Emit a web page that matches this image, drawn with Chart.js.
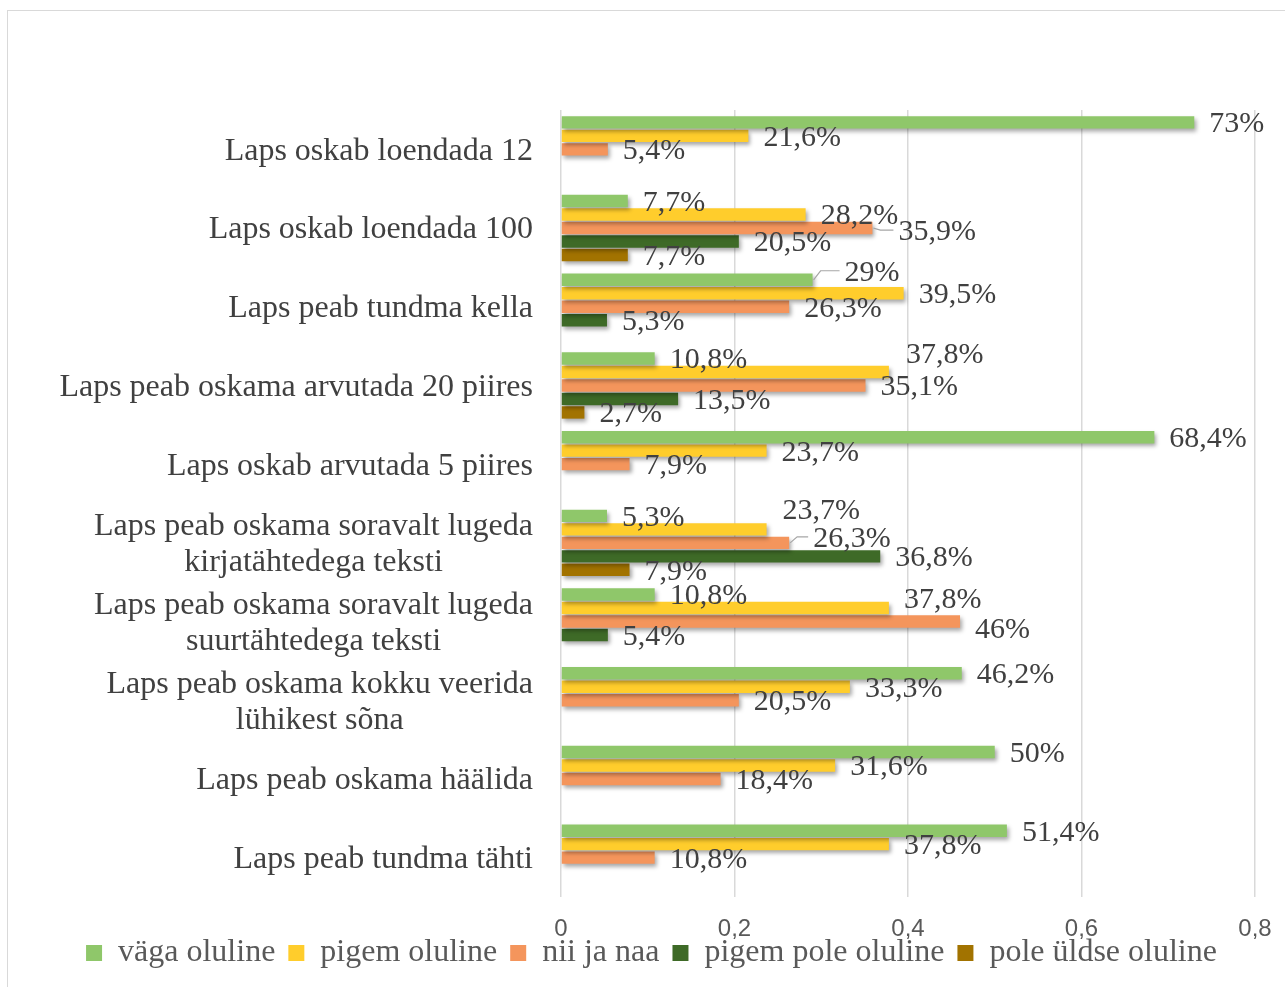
<!DOCTYPE html>
<html>
<head>
<meta charset="utf-8">
<script src="https://cdn.jsdelivr.net/npm/chart.js@4"></script>
<style>
html, body { margin: 0; padding: 0; background: #fff; }
canvas { display: block; }
</style>
</head>
<body>
<canvas id="chart" width="1285" height="987"></canvas>
<script>
// kategooriad (ülevalt alla)
const categories = [
  'Laps oskab loendada 12',
  'Laps oskab loendada 100',
  'Laps peab tundma kella',
  'Laps peab oskama arvutada 20 piires',
  'Laps oskab arvutada 5 piires',
  ['Laps peab oskama soravalt lugeda', 'kirjatähtedega teksti'],
  ['Laps peab oskama soravalt lugeda', 'suurtähtedega teksti'],
  ['Laps peab oskama kokku veerida', 'lühikest sõna'],
  'Laps peab oskama häälida',
  'Laps peab tundma tähti'
];

const seriesNames = ['väga oluline', 'pigem oluline', 'nii ja naa', 'pigem pole oluline', 'pole üldse oluline'];

const vagaOluline      = [0.73, 0.077, 0.29, 0.108, 0.684, 0.053, 0.108, 0.462, 0.5, 0.514];
const pigemOluline     = [0.216, 0.282, 0.395, 0.378, 0.237, 0.237, 0.378, 0.333, 0.316, 0.378];
const niiJaNaa         = [0.054, 0.359, 0.263, 0.351, 0.079, 0.263, 0.46, 0.205, 0.184, 0.108];
const pigemPoleOluline = [0, 0.205, 0.053, 0.135, 0, 0.368, 0.054, 0, 0, 0];
const poleUldseOluline = [0, 0.077, 0, 0.027, 0, 0.079, 0, 0, 0, 0];

const xTicks = [0, 0.2, 0.4, 0.6, 0.8];

const colors = ['#8fc76a', '#ffcd2c', '#f4955c', '#3e6a27', '#a27300'];

// siltide nihutused nagu Excelis (seeria-kategooria)
const labelNudge = {
  '2-1': { dx: 11, dy: 2, leader: true },
  '0-2': { dx: 17, dy: -9, leader: true },
  '1-3': { dx: 2, dy: -19 },
  '1-5': { dx: 1, dy: -20 },
  '2-5': { dx: 9, dy: -6, leader: true },
  '1-6': { dx: 0, dy: -10 },
  '2-6': { dx: 0, dy: 7 }
};

function pct(v) {
  return (Math.round(v * 1000) / 10).toString().replace('.', ',') + '%';
}

// raam ümber
const frame = {
  id: 'frame',
  beforeDraw(chart) {
    const ctx = chart.ctx;
    ctx.save();
    ctx.strokeStyle = '#d9d9d9';
    ctx.lineWidth = 1;
    ctx.strokeRect(7.5, 10.5, 1400, 1100);
    ctx.restore();
  }
};

// legend veidi üles ja paremale
const legendShift = {
  id: 'legendShift',
  afterLayout(chart) {
    const lg = chart.legend;
    if (!lg) return;
    lg.top -= 20; lg.bottom -= 20;
    lg.left += 24; lg.right += 24;
  }
};

// varjud tulpadele
const barShadow = {
  id: 'barShadow',
  beforeDatasetsDraw(chart) {
    const ctx = chart.ctx;
    ctx.save();
    ctx.shadowColor = 'rgba(0,0,0,0.35)';
    ctx.shadowBlur = 4;
    ctx.shadowOffsetX = 2;
    ctx.shadowOffsetY = 3;
  },
  afterDatasetsDraw(chart) {
    chart.ctx.restore();
  }
};

// väärtuste sildid
const valueLabels = {
  id: 'valueLabels',
  afterDatasetsDraw(chart) {
    const ctx = chart.ctx;
    ctx.save();
    ctx.font = '30px "Liberation Serif", "Times New Roman", serif';
    ctx.textAlign = 'left';
    ctx.textBaseline = 'middle';
    chart.data.datasets.forEach((ds, di) => {
      chart.getDatasetMeta(di).data.forEach((bar, i) => {
        const v = ds.data[i];
        if (!v) return;
        const n = labelNudge[di + '-' + i] || { dx: 0, dy: 0 };
        const lx = bar.x + 15 + n.dx;
        const ly = bar.y + 2 + n.dy;
        if (n.leader) {
          ctx.strokeStyle = '#a6a6a6';
          ctx.lineWidth = 1.2;
          ctx.beginPath();
          ctx.moveTo(bar.x + 1, bar.y);
          ctx.lineTo(bar.x + 8, ly - 2);
          ctx.lineTo(lx - 5, ly - 2);
          ctx.stroke();
        }
        ctx.fillStyle = '#404040';
        ctx.fillText(pct(v), lx, ly);
      });
    });
    ctx.restore();
  }
};

// kategooriate sildid (mitmerealised keskele joondatud)
const categoryLabels = {
  id: 'categoryLabels',
  afterDraw(chart) {
    const ctx = chart.ctx;
    const yScale = chart.scales.y;
    ctx.save();
    ctx.font = '32px "Liberation Serif", "Times New Roman", serif';
    ctx.fillStyle = '#404040';
    ctx.textAlign = 'center';
    ctx.textBaseline = 'middle';
    categories.forEach((lab, i) => {
      const lines = Array.isArray(lab) ? lab : [lab];
      const w = Math.max(...lines.map(l => ctx.measureText(l).width));
      const cx = chart.chartArea.left - 28 - w / 2;
      const cy = yScale.getPixelForValue(i) + 2;
      lines.forEach((l, j) => {
        ctx.fillText(l, cx, cy + (j - (lines.length - 1) / 2) * 36);
      });
    });
    ctx.restore();
  }
};

const series = [vagaOluline, pigemOluline, niiJaNaa, pigemPoleOluline, poleUldseOluline];

new Chart(document.getElementById('chart'), {
  type: 'bar',
  data: {
    labels: categories,
    datasets: series.map((d, i) => ({
      label: seriesNames[i],
      data: d,
      backgroundColor: colors[i],
      borderWidth: 0,
      barPercentage: 0.92,
      categoryPercentage: 0.857
    }))
  },
  options: {
    indexAxis: 'y',
    responsive: false,
    animation: false,
    layout: { padding: { top: 110, right: 30, bottom: -12, left: 0 } },
    scales: {
      x: {
        min: 0,
        max: 0.8,
        afterBuildTicks: s => { s.ticks = xTicks.map(v => ({ value: v })); },
        grid: { color: '#d9d9d9', lineWidth: 1.5, drawTicks: false },
        border: { display: false },
        ticks: {
          padding: 18,
          color: '#595959',
          font: { family: '"Liberation Sans Narrow", "Liberation Sans", Arial, sans-serif', size: 24 },
          callback: v => v.toString().replace('.', ',')
        },
        afterFit: s => { s.height = 47; s.paddingRight = 0; s.paddingLeft = 0; }
      },
      y: {
        grid: { display: false },
        border: { display: false },
        ticks: { display: false },
        afterFit: s => { s.width = 561; }
      }
    },
    plugins: {
      legend: {
        position: 'bottom',
        labels: {
          boxWidth: 16,
          boxHeight: 16,
          padding: 13,
          color: '#595959',
          font: { family: '"Liberation Serif", "Times New Roman", serif', size: 32 }
        }
      },
      tooltip: { enabled: false }
    }
  },
  plugins: [frame, legendShift, barShadow, valueLabels, categoryLabels]
});
</script>
</body>
</html>
